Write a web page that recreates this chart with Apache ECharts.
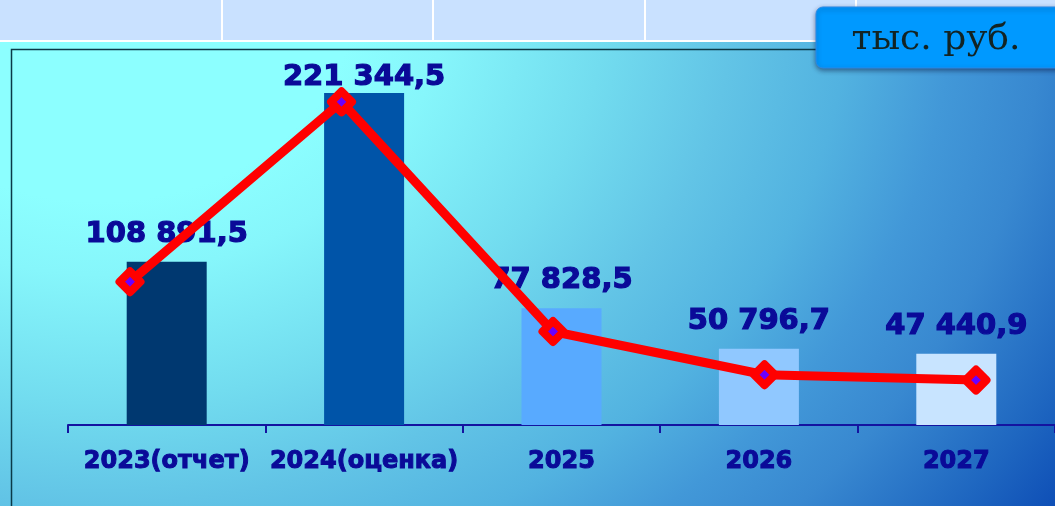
<!DOCTYPE html>
<html>
<head>
<meta charset="utf-8">
<script src="https://cdn.jsdelivr.net/npm/echarts@6/dist/echarts.min.js"></script>
<style>
html,body{margin:0;padding:0;width:1055px;height:506px;overflow:hidden;}
#chart{width:1055px;height:506px;}
</style>
</head>
<body>
<div id="chart"></div>
<script>
const categories = ['2023(отчет)', '2024(оценка)', '2025', '2026', '2027'];
const values = [108891.5, 221344.5, 77828.5, 50796.7, 47440.9];
const unitLabel = 'тыс. руб.';

const barColors = ['#003870', '#0054A8', '#58AAFF', '#90C8FF', '#C8E4FF'];
const textColor = '#0a0a98';

function fmt(v) {
  const s = v.toFixed(1).split('.');
  return s[0].replace(/\B(?=(\d{3})+(?!\d))/g, ' ') + ',' + s[1];
}

const chart = echarts.init(document.getElementById('chart'), null, {renderer: 'canvas'});
const G = echarts.graphic;
const K = 1.257;

const option = {
  animation: false,
  backgroundColor: '#5ABCE2',
  graphic: [
    {type: 'rect', z: 0, silent: true, x: 0, y: 0, scaleX: 1, scaleY: 1 / K,
     shape: {x: 0, y: 0, width: 1055, height: 506 * K + 2},
     style: {fill: new G.RadialGradient(100, 0, 1150, [
       {offset: 0, color: '#8CFFFF'},
       {offset: 0.22, color: '#8CFFFF'},
       {offset: 0.30, color: '#86F6FB'},
       {offset: 0.44, color: '#72DCEF'},
       {offset: 0.55, color: '#62C4E6'},
       {offset: 0.65, color: '#52B2E0'},
       {offset: 0.74, color: '#4298D8'},
       {offset: 0.82, color: '#3888D0'},
       {offset: 0.93, color: '#1E66C0'},
       {offset: 1, color: '#0E4EB6'}
     ], true)}},
    {type: 'rect', z: 1, silent: true, shape: {x: 0, y: 0, width: 1055, height: 40}, style: {fill: '#C9E1FF'}},
    {type: 'rect', z: 1, silent: true, shape: {x: 0, y: 40, width: 1055, height: 2}, style: {fill: '#FFFFFF'}},
    {type: 'rect', z: 1, silent: true, shape: {x: 221, y: 0, width: 2, height: 40}, style: {fill: '#FFFFFF'}},
    {type: 'rect', z: 1, silent: true, shape: {x: 432, y: 0, width: 2, height: 40}, style: {fill: '#FFFFFF'}},
    {type: 'rect', z: 1, silent: true, shape: {x: 644, y: 0, width: 2, height: 40}, style: {fill: '#FFFFFF'}},
    {type: 'rect', z: 1, silent: true, shape: {x: 855, y: 0, width: 2, height: 40}, style: {fill: '#FFFFFF'}},
    {type: 'rect', z: 1, silent: true, shape: {x: 11.5, y: 49.5, width: 1100, height: 500},
     style: {fill: 'none', stroke: '#0a3a48', lineWidth: 1.5}},
    {type: 'rect', z: 100, silent: true, shape: {x: 816, y: 7, width: 260, height: 61, r: 7},
     style: {fill: '#0099FF', stroke: '#2a8ae8', lineWidth: 1, shadowBlur: 5, shadowOffsetY: 2, shadowColor: 'rgba(0,0,40,0.45)'}},
    {type: 'text', z: 101, silent: true, x: 936, y: 40,
     style: {text: unitLabel, fill: '#122424', font: '36px "DejaVu Serif"', align: 'center', verticalAlign: 'middle'}}
  ],
  grid: [
    {left: 68, right: 0, top: 50, bottom: 81},
    {left: 130, right: 79, top: 56, bottom: 50}
  ],
  xAxis: [
    {type: 'category', gridIndex: 0, data: categories,
     axisLine: {lineStyle: {color: '#1414a0', width: 2}},
     axisTick: {show: true, length: 8, lineStyle: {color: '#1414a0', width: 2}},
     axisLabel: {color: textColor, fontFamily: 'DejaVu Sans', fontWeight: 'bold', fontSize: 24, margin: 25, interval: 0,
                 textBorderColor: textColor, textBorderWidth: 1}},
    {type: 'category', gridIndex: 1, data: categories, boundaryGap: false, show: false}
  ],
  yAxis: [
    {type: 'value', gridIndex: 0, min: 0, max: 250000, show: false, splitLine: {show: false}},
    {type: 'value', gridIndex: 1, min: 0, max: 250000, show: false, splitLine: {show: false}}
  ],
  series: [
    {type: 'bar', xAxisIndex: 0, yAxisIndex: 0, z: 2, barWidth: 80,
     data: values.map((v, i) => ({value: v, itemStyle: {color: barColors[i]}})),
     label: {show: true, position: 'top', distance: 13, color: textColor,
             fontFamily: 'DejaVu Sans', fontWeight: 'bold', fontSize: 29,
             textBorderColor: textColor, textBorderWidth: 1.2,
             formatter: p => fmt(p.value)},
     labelLayout: p => (p.dataIndex === 1 ? {dy: 12} : {}),
     emphasis: {disabled: true}},
    {type: 'line', xAxisIndex: 1, yAxisIndex: 1, z: 10, data: values,
     lineStyle: {color: '#FF0000', width: 9, cap: 'round', join: 'round'},
     symbol: 'diamond', symbolSize: 21, showAllSymbol: true,
     itemStyle: {color: '#6a00ff', borderColor: '#FF0000', borderWidth: 8, borderJoin: 'round'},
     emphasis: {disabled: true}}
  ]
};
chart.setOption(option);
</script>
</body>
</html>
